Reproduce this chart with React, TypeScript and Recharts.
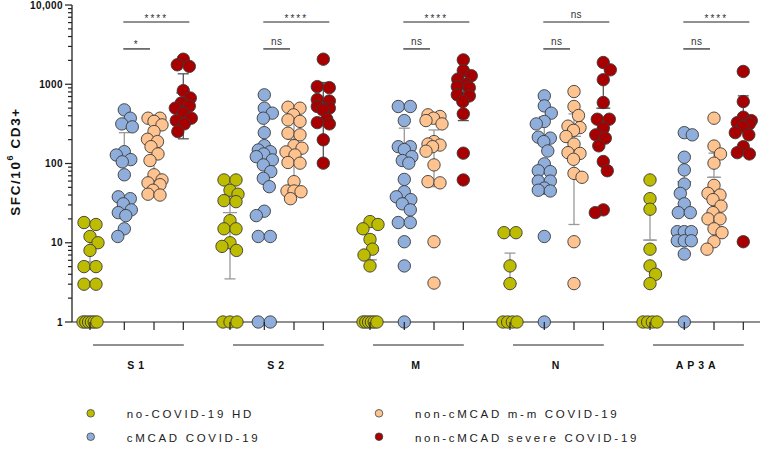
import React from 'react';
import { ScatterChart, Scatter, XAxis, YAxis, ErrorBar, ReferenceLine, Legend } from 'recharts';

const antigens = ['S1', 'S2', 'M', 'N', 'AP3A'];
const groups = ['no-COVID-19 HD', 'cMCAD COVID-19', 'non-cMCAD m-m COVID-19', 'non-cMCAD severe COVID-19'];
const groupColors = ['#BEBC00', '#8FAEDB', '#FFC38F', '#A80000'];
const barColors = ['#999999', '#999999', '#999999', '#555555'];

// SFC / 10^6 CD3+ per donor
const s1Hd = [18, 17, 12, 10, 8, 5, 5, 3, 3, 1, 1, 1, 1, 1, 1];
const s1Cm = [475, 373, 316, 290, 141, 128, 112, 105, 72, 38, 36, 31, 26, 24, 22, 15, 12];
const s1Mm = [373, 373, 340, 307, 253, 202, 189, 163, 132, 109, 72, 62, 57, 54, 46, 41, 40];
const s1Sv = [2070, 1760, 1680, 830, 670, 580, 530, 500, 430, 373, 348, 316, 253];

const s2Hd = [62, 62, 46, 41, 34, 33, 19, 15, 15, 10, 9, 8, 1, 1, 1];
const s2Cm = [735, 499, 432, 373, 245, 168, 148, 141, 132, 122, 111, 96, 79, 65, 51, 25, 22, 12, 12, 1, 1];
const s2Mm = [513, 499, 411, 355, 340, 241, 230, 168, 156, 140, 128, 103, 101, 59, 45, 45, 44, 36];
const s2Sv = [2070, 934, 906, 641, 615, 524, 499, 475, 362, 328, 316, 199, 101];

const mHd = [18.5, 17, 15, 11, 8.3, 7, 5.1, 1, 1, 1, 1, 1, 1];
const mCm = [524, 524, 348, 163, 163, 150, 122, 109, 101, 63, 44, 38, 35, 31, 26, 18, 18, 10.3, 5.1, 1];
const mMm = [411, 392, 373, 348, 316, 189, 176, 171, 163, 143, 96, 59, 57, 10.3, 3.1];
const mSv = [2030, 1490, 1280, 1160, 1010, 934, 906, 735, 712, 605, 423, 135, 62];

const nHd = [13.4, 13.4, 5.1, 3.05, 1, 1, 1, 1];
const nCm = [714, 533, 432, 339, 316, 215, 209, 189, 144, 99, 81, 79, 60, 60, 49, 46, 45, 12, 1];
const nMm = [809, 524, 403, 296, 284, 262, 219, 176, 137, 134, 113, 75, 67, 10.3, 3.05];
const nSv = [1880, 1520, 1140, 588, 362, 362, 279, 230, 209, 167, 106, 81, 26, 24];

const apHd = [62, 36, 26.5, 8.3, 5.1, 4, 3.05, 1, 1, 1, 1];
const apCm = [245, 230, 120, 83, 55, 42, 31, 24, 24, 13.8, 13.8, 13.8, 10.6, 10.6, 10.6, 7.2, 1];
const apMm = [373, 166, 132, 101, 53, 42, 40, 35, 29, 24, 20, 20, 15, 13.4, 10.3, 8.3];
const apSv = [1450, 605, 384, 348, 328, 316, 291, 245, 230, 163, 137, 132, 10.3];

// mean and SD per group (HD, cMCAD, m-m, severe)
const meanS1 = [5.7, 115, 163, 780];
const sdS1 = [6, 130, 120, 575];
const meanS2 = [24, 165, 202, 572];
const sdS2 = [20.5, 190, 160, 480];
const meanM = [6.1, 125, 158, 880];
const sdM = [6.4, 154, 107, 532];
const meanN = [3.05, 190, 220, 499];
const sdN = [4.35, 200, 203, 583];
const meanAp = [10.8, 59, 67, 357];
const sdAp = [17.8, 69, 68, 357];

const topSig = ['****', '****', '****', 'ns', '****'];
const pairSig = ['*', 'ns', 'ns', 'ns', 'ns'];
const yMajor = [1, 10, 100, 1000, 10000];

const values = [
  [s1Hd, s1Cm, s1Mm, s1Sv],
  [s2Hd, s2Cm, s2Mm, s2Sv],
  [mHd, mCm, mMm, mSv],
  [nHd, nCm, nMm, nSv],
  [apHd, apCm, apMm, apSv],
];
const means = [meanS1, meanS2, meanM, meanN, meanAp];
const sds = [sdS1, sdS2, sdM, sdN, sdAp];

// layout
const W = 762;
const H = 449;
const PLOT_LEFT = 72;
const PLOT_TOP = 5;
const PLOT_BOTTOM = 322;
const PLOT_RIGHT = 760;
const X_SPAN = PLOT_RIGHT - PLOT_LEFT;
const FIRST_COL = 18;
const GROUP_STEP = 140;
const COL_OFFSETS = [0, 34.3, 64, 93.3];
const PX_PER_DECADE = (PLOT_BOTTOM - PLOT_TOP) / 4;
const DOT_R = 6.2;
const DOT_GAP = 10;
const MAX_SPREAD = 8;
const ROW_SPREAD = 7;
const TOP_BRACKET = 6100;
const PAIR_BRACKET = 2790;
const FONT = '"Liberation Sans", Arial, sans-serif';

const colX = (a: number, g: number) => FIRST_COL + a * GROUP_STEP + COL_OFFSETS[g];

// simple beeswarm: equal values share a row, others pushed sideways
function swarm(vals: number[]): number[] {
  const pts = vals
    .map((v, i) => ({ i, py: Math.log10(v) * PX_PER_DECADE }))
    .sort((a, b) => b.py - a.py);
  const out: number[] = new Array(vals.length).fill(0);
  const placed: { x: number; py: number }[] = [];
  let k = 0;
  let side = 1;
  while (k < pts.length) {
    let n = 1;
    while (k + n < pts.length && pts[k].py - pts[k + n].py < 2) n++;
    if (n > 1) {
      const sp = Math.min(DOT_GAP + 2, (2 * ROW_SPREAD) / (n - 1));
      for (let j = 0; j < n; j++) {
        const x = (j - (n - 1) / 2) * sp;
        out[pts[k + j].i] = x;
        placed.push({ x, py: pts[k + j].py });
      }
    } else {
      const py = pts[k].py;
      let best = 0;
      let bestScore = -1;
      let done = false;
      for (let s = 0; s <= MAX_SPREAD * 2 && !done; s++) {
        for (const sign of [side, -side]) {
          const c = sign * s * 0.5;
          let d = Infinity;
          for (const p of placed) d = Math.min(d, Math.hypot(p.x - c, p.py - py));
          if (d >= DOT_GAP) {
            best = c;
            done = true;
            break;
          }
          if (d > bestScore + 0.01) {
            best = c;
            bestScore = d;
          }
        }
      }
      if (best !== 0) side = best > 0 ? -1 : 1;
      out[pts[k].i] = best;
      placed.push({ x: best, py });
    }
    k += n;
  }
  return out;
}

const pointSeries = groups.map((_, g) =>
  antigens.flatMap((__, a) => {
    const vals = values[a][g];
    const offs = swarm(vals);
    return vals.map((v, i) => ({ x: colX(a, g) + offs[i], y: v }));
  })
);

const summarySeries = groups.map((_, g) =>
  antigens.map((__, a) => {
    const m = means[a][g];
    const s = sds[a][g];
    return { x: colX(a, g), y: m, err: [m - s > 0 ? s : 0, s] };
  })
);

const colTicks = antigens.flatMap((_, a) => COL_OFFSETS.map((__, g) => colX(a, g)));
const yTicks = yMajor.flatMap((d, i) =>
  i < yMajor.length - 1 ? [d, 2, 3, 4, 5, 6, 7, 8, 9].map((k, j) => (j === 0 ? d : d * k)) : [d]
);

const isMajor = (v: number) => Math.abs(Math.log10(v) - Math.round(Math.log10(v))) < 1e-9;

const renderYTick = (props: any) => {
  const { x, y, payload } = props;
  const v = payload.value;
  const major = isMajor(v);
  return (
    <g>
      <line x1={x - (major ? 7 : 4)} x2={x} y1={y} y2={y} stroke="#222" strokeWidth={1.2} />
      {major && (
        <text
          x={x - 9}
          y={y}
          dy="0.36em"
          textAnchor="end"
          fontFamily={FONT}
          fontSize={10}
          fontWeight="bold"
          letterSpacing={0.4}
          fill="#111"
        >
          {v === 10000 ? '10,000' : String(v)}
        </text>
      )}
    </g>
  );
};

// column tick marks, plus antigen underline and name under every first column
const renderXTick = (props: any) => {
  const { x, y, index } = props;
  const first = index % COL_OFFSETS.length === 0;
  const span = COL_OFFSETS[COL_OFFSETS.length - 1];
  return (
    <g>
      <line x1={x} x2={x} y1={y} y2={y + 8} stroke="#222" strokeWidth={1.2} />
      {first && (
        <line x1={x + 3} x2={x + span + 0.5} y1={y + 23} y2={y + 23} stroke="#222" strokeWidth={1.2} />
      )}
      {first && (
        <text
          x={x + span / 2 + 1}
          y={y + 47}
          textAnchor="middle"
          fontFamily={FONT}
          fontSize={10.5}
          fontWeight="bold"
          letterSpacing={4}
          fill="#111"
        >
          {antigens[Math.floor(index / COL_OFFSETS.length)]}
        </text>
      )}
    </g>
  );
};

const renderYLabel = (props: any) => {
  const vb = props.viewBox || { x: 0, y: PLOT_TOP, width: PLOT_LEFT, height: PLOT_BOTTOM - PLOT_TOP };
  const cx = vb.x + 15;
  const cy = vb.y + vb.height / 2 - 2;
  return (
    <text
      x={cx}
      y={cy}
      transform={`rotate(-90 ${cx} ${cy})`}
      textAnchor="middle"
      dominantBaseline="central"
      fontFamily={FONT}
      fontSize={13.5}
      fontWeight="bold"
      letterSpacing={1.6}
      fill="#111"
    >
      SFC/10
      <tspan dy={-5} fontSize={9}>
        6
      </tspan>
      <tspan dy={5}> CD3+</tspan>
    </text>
  );
};

const renderLegend = () => (
  <svg width={620} height={49}>
    {groups.map((name, g) => {
      const cx = g < 2 ? 20.7 : 309;
      const cy = g % 2 === 0 ? 13.3 : 36.7;
      return (
        <g key={name}>
          <circle cx={cx} cy={cy} r={3.8} fill={groupColors[g]} stroke="#444" strokeWidth={0.8} />
          <text
            x={cx + 36}
            y={cy + 5}
            fontFamily={FONT}
            fontSize={11.5}
            letterSpacing={2.7}
            fill="#222"
          >
            {name}
          </text>
        </g>
      );
    })}
  </svg>
);

const sigLabel = (text: string) => ({
  value: text,
  position: 'top' as const,
  offset: text === 'ns' ? 4 : 0.5,
  fontSize: 10,
  fontFamily: FONT,
  letterSpacing: text === 'ns' ? 0.3 : 2,
  fill: '#333',
});

export default function App() {
  return (
    <div style={{ width: W, height: H, background: '#fff' }}>
      <style>{'body{margin:0;}'}</style>
      <ScatterChart width={W} height={H} margin={{ top: PLOT_TOP, right: W - PLOT_RIGHT, bottom: 0, left: 0 }}>
        <XAxis
          type="number"
          dataKey="x"
          domain={[0, X_SPAN]}
          ticks={colTicks}
          interval={0}
          tickSize={0}
          tickMargin={0}
          tickLine={false}
          height={H - PLOT_BOTTOM}
          axisLine={{ stroke: '#222', strokeWidth: 1.2 }}
          tick={renderXTick}
        />
        <YAxis
          type="number"
          dataKey="y"
          scale="log"
          domain={[1, 10000]}
          ticks={yTicks}
          interval={0}
          width={PLOT_LEFT}
          tickSize={0}
          tickMargin={0}
          tickLine={false}
          axisLine={{ stroke: '#222', strokeWidth: 1.3 }}
          tick={renderYTick}
          label={renderYLabel}
        />
        {antigens.map((_, a) => (
          <ReferenceLine
            key={`top-${a}`}
            segment={[
              { x: colX(a, 1) - 1, y: TOP_BRACKET },
              { x: colX(a, 3) + 6, y: TOP_BRACKET },
            ]}
            stroke="#222"
            strokeWidth={1.2}
            label={sigLabel(topSig[a])}
          />
        ))}
        {antigens.map((_, a) => (
          <ReferenceLine
            key={`pair-${a}`}
            segment={[
              { x: colX(a, 1) - 1, y: PAIR_BRACKET },
              { x: colX(a, 2) - 4, y: PAIR_BRACKET },
            ]}
            stroke="#222"
            strokeWidth={1.2}
            label={sigLabel(pairSig[a])}
          />
        ))}
        {groups.map((name, g) => (
          <Scatter
            key={`sum-${name}`}
            data={summarySeries[g]}
            legendType="none"
            isAnimationActive={false}
            shape={(p: any) => (
              <line x1={p.cx - 7} x2={p.cx + 7} y1={p.cy} y2={p.cy} stroke={barColors[g]} strokeWidth={1.3} />
            )}
          >
            <ErrorBar dataKey="err" direction="y" width={5.5} stroke={barColors[g]} strokeWidth={1.3} />
          </Scatter>
        ))}
        {groups.map((name, g) => (
          <Scatter
            key={name}
            name={name}
            data={pointSeries[g]}
            fill={groupColors[g]}
            isAnimationActive={false}
            shape={(p: any) => (
              <circle cx={p.cx} cy={p.cy} r={DOT_R} fill={groupColors[g]} stroke="#3a3a3a" strokeWidth={0.9} />
            )}
          />
        ))}
        <Legend
          content={renderLegend}
          layout="horizontal"
          verticalAlign="middle"
          align="center"
          wrapperStyle={{ left: 70, top: 400, width: 620, height: 49 }}
        />
      </ScatterChart>
    </div>
  );
}
